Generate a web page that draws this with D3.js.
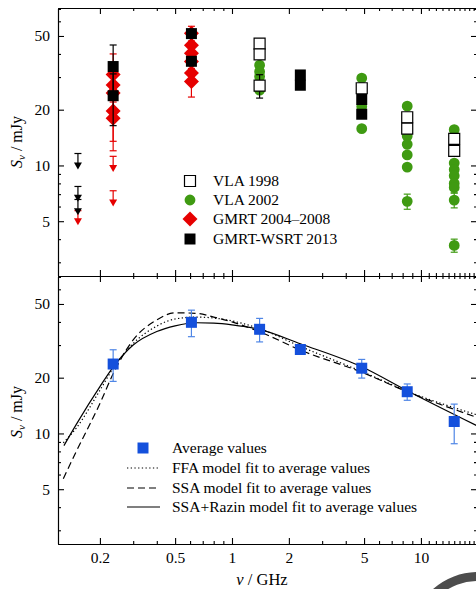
<!DOCTYPE html>
<html>
<head>
<meta charset="utf-8">
<script src="https://cdnjs.cloudflare.com/ajax/libs/d3/7.8.5/d3.min.js"></script>
<style>
body { margin: 0; background: #fff; }
svg { display: block; font-family: "Liberation Serif", "DejaVu Serif", serif; }
.axis path, .axis line { stroke: #000; stroke-width: 1.1; }
.axis text { font-size: 15.5px; fill: #000; font-family: "Liberation Serif", serif; }
.legend text { font-size: 15.5px; fill: #000; }
</style>
</head>
<body>
<script>
// Radio spectrum chart: two panels sharing a log frequency axis

// tick values
var freqTicks = [0.2, 0.5, 1, 2, 5, 10];
var freqMinor = [0.3, 0.4, 0.6, 0.7, 0.8, 0.9, 3, 4, 6, 7, 8, 9, 11, 12, 13, 14, 15, 16, 17, 18, 19];
var fluxTicks = [5, 10, 20, 50];
var fluxMinor = [3, 4, 6, 7, 8, 9, 30, 40, 60, 70];

// top panel data: [GHz, mJy, error]
var vla1998 = [[1.4, 45.5, 0], [1.4, 39.8, 0], [1.4, 27.0, 3.9], [4.86, 26.1, 0],
  [8.46, 18.2, 0], [8.46, 15.8, 0], [15, 13.9, 0], [15, 12.0, 0]];
var vla2002 = [[1.4, 34.8, 0], [1.4, 32.1, 0], [1.4, 30.2, 0], [1.4, 25.5, 0],
  [4.86, 29.6, 0], [4.86, 20.8, 0], [4.86, 15.8, 0],
  [8.46, 20.9, 0], [8.46, 14.4, 0], [8.46, 13.0, 0], [8.46, 11.4, 0], [8.46, 9.8, 0], [8.46, 6.4, 0.6],
  [15, 15.6, 0], [15, 10.3, 0], [15, 9.5, 0], [15, 8.8, 0], [15, 8.0, 0], [15, 7.6, 0.5], [15, 6.5, 0.6], [15, 3.7, 0.3]];
var gmrt = [[0.235, 31.0, 9.0], [0.235, 27.2, 0], [0.235, 24.6, 0], [0.235, 19.7, 6.2], [0.235, 18.0, 6.0],
  [0.61, 51.7, 4.7], [0.61, 44.6, 0], [0.61, 40.4, 0], [0.61, 36.4, 0], [0.61, 31.6, 0], [0.61, 28.4, 5.0]];
var gmrtLimits = [[0.153, 5.0, 0.7], [0.235, 9.7, 1.5], [0.235, 6.3, 1.0]];
var wsrt = [[0.235, 34.2, 10.5], [0.235, 23.8, 7.4], [0.61, 51.5, 0], [0.61, 36.5, 0],
  [2.3, 30.8, 0], [2.3, 27.1, 0], [4.86, 22.7, 0], [4.86, 18.9, 0]];
var wsrtLimits = [[0.153, 10.0, 1.6], [0.153, 6.7, 1.0], [0.153, 5.65, 0.9]];

// bottom panel data
var averages = [[0.235, 23.7, 4.6], [0.61, 39.8, 6.5], [1.4, 36.5, 5.3], [2.3, 28.4, 0],
  [4.86, 22.5, 2.6], [8.46, 16.8, 1.7], [15, 11.6, 2.8]];
var ffaCurve = [[0.128, 8.9], [0.15, 10.7], [0.2, 17.1], [0.235, 22.5], [0.3, 30.6], [0.4, 38.0], [0.5, 41.5],
  [0.65, 42.5], [0.8, 42.0], [1, 40.5], [1.4, 36.8], [2.3, 29.5], [4.86, 21.6], [8.46, 16.9], [19.8, 12.6]];
var ssaCurve = [[0.128, 5.7], [0.15, 8.0], [0.2, 14.5], [0.235, 21.0], [0.3, 32.0], [0.4, 41.0], [0.5, 44.8],
  [0.65, 44.5], [0.8, 42.5], [1, 40.0], [1.4, 35.4], [2.3, 28.2], [4.86, 21.4], [8.46, 16.8], [19.8, 12.2]];
var razinCurve = [[0.129, 8.6], [0.15, 11.2], [0.2, 17.9], [0.235, 22.8], [0.3, 30.0], [0.4, 35.5], [0.5, 38.1],
  [0.65, 39.6], [0.8, 39.4], [1, 38.6], [1.4, 36.5], [2.3, 30.5], [4.86, 22.9], [8.46, 17.0], [19.8, 11.0]];

var svgWidth = 476;
var svgHeight = 589;
var left = 58, right = 477;

var green = "#3f9a12", red = "#e60000", blue = "#1450dc", lightBlue = "#4f86e6";

var svg = d3.select("body").append("svg")
  .attr("width", svgWidth)
  .attr("height", svgHeight);

var x = d3.scaleLog().domain([0.12, 19.8]).range([left, right]);
var yTop = d3.scaleLog().domain([2.53, 70.8]).range([276, 8]);
var yBot = d3.scaleLog().domain([2.53, 70.8]).range([544, 276]);

var noLabel = function() { return ""; };

function drawAxes(y, y0, y1, xLabels) {
  var g = svg.append("g").attr("class", "axis");
  // minor ticks first
  g.append("g").attr("transform", "translate(0," + y1 + ")")
    .call(d3.axisBottom(x).tickValues(freqMinor).tickSize(-3).tickSizeOuter(0).tickFormat(noLabel));
  g.append("g").attr("transform", "translate(0," + y0 + ")")
    .call(d3.axisTop(x).tickValues(freqMinor).tickSize(-3).tickSizeOuter(0).tickFormat(noLabel));
  g.append("g").attr("transform", "translate(" + left + ",0)")
    .call(d3.axisLeft(y).tickValues(fluxMinor).tickSize(-3).tickSizeOuter(0).tickFormat(noLabel));
  g.append("g").attr("transform", "translate(" + right + ",0)")
    .call(d3.axisRight(y).tickValues(fluxMinor).tickSize(-3).tickSizeOuter(0).tickFormat(noLabel));
  // major ticks
  g.append("g").attr("transform", "translate(0," + y1 + ")")
    .call(d3.axisBottom(x).tickValues(freqTicks).tickSize(-6).tickSizeOuter(0).tickPadding(8)
      .tickFormat(xLabels ? d3.format("~g") : noLabel));
  g.append("g").attr("transform", "translate(0," + y0 + ")")
    .call(d3.axisTop(x).tickValues(freqTicks).tickSize(-6).tickSizeOuter(0).tickFormat(noLabel));
  g.append("g").attr("transform", "translate(" + left + ",0)")
    .call(d3.axisLeft(y).tickValues(fluxTicks).tickSize(-6).tickSizeOuter(0).tickPadding(8).tickFormat(d3.format("~g")));
  g.append("g").attr("transform", "translate(" + right + ",0)")
    .call(d3.axisRight(y).tickValues(fluxTicks).tickSize(-6).tickSizeOuter(0).tickFormat(noLabel));
  g.selectAll(".domain").attr("stroke-width", 1.4);
}

var squareSym = d3.symbol().type(d3.symbolSquare).size(121);
var circleSym = d3.symbol().type(d3.symbolCircle).size(92);
var diamondPath = "M0,-7.5L7.5,0L0,7.5L-7.5,0Z";
var triPath = "M-4,-3L4,-3L0,4Z";

function errorBars(g, data, y, color, upOnly) {
  var withErr = data.filter(function(d) { return d[2] > 0; });
  var bars = g.selectAll(null).data(withErr).enter().append("g")
    .attr("stroke", color).attr("stroke-width", 1.2);
  bars.append("line")
    .attr("x1", function(d) { return x(d[0]); })
    .attr("x2", function(d) { return x(d[0]); })
    .attr("y1", function(d) { return y(d[1] + d[2]); })
    .attr("y2", function(d) { return upOnly ? y(d[1]) : y(d[1] - d[2]); });
  bars.append("line")
    .attr("x1", function(d) { return x(d[0]) - 3.5; })
    .attr("x2", function(d) { return x(d[0]) + 3.5; })
    .attr("y1", function(d) { return y(d[1] + d[2]); })
    .attr("y2", function(d) { return y(d[1] + d[2]); });
  if (!upOnly) {
    bars.append("line")
      .attr("x1", function(d) { return x(d[0]) - 3.5; })
      .attr("x2", function(d) { return x(d[0]) + 3.5; })
      .attr("y1", function(d) { return y(d[1] - d[2]); })
      .attr("y2", function(d) { return y(d[1] - d[2]); });
  }
}

function markers(g, data, y, path, fill, stroke) {
  g.selectAll(null).data(data).enter().append("path")
    .attr("d", path)
    .attr("transform", function(d) { return "translate(" + x(d[0]) + "," + y(d[1]) + ")"; })
    .attr("fill", fill)
    .attr("stroke", stroke || "none")
    .attr("stroke-width", 1.2);
}

// ---------- top panel ----------
var topG = svg.append("g");
errorBars(topG, vla2002, yTop, green, false);
markers(topG, vla2002, yTop, circleSym, green);
errorBars(topG, vla1998, yTop, "#000", false);
markers(topG, vla1998, yTop, squareSym, "#fff", "#000");
errorBars(topG, gmrt, yTop, red, false);
markers(topG, gmrt, yTop, diamondPath, red);
errorBars(topG, gmrtLimits, yTop, red, true);
markers(topG, gmrtLimits, yTop, triPath, red);
errorBars(topG, wsrtLimits, yTop, "#000", true);
markers(topG, wsrtLimits, yTop, triPath, "#000");
errorBars(topG, wsrt, yTop, "#000", false);
markers(topG, wsrt, yTop, squareSym, "#000");

drawAxes(yTop, 8, 276, false);

// top legend
var topLegend = [
  { label: "VLA 1998", path: squareSym, fill: "#fff", stroke: "#000" },
  { label: "VLA 2002", path: circleSym, fill: green },
  { label: "GMRT 2004\u20132008", path: diamondPath, fill: red },
  { label: "GMRT-WSRT 2013", path: squareSym, fill: "#000" }
];
var legendRowsTop = [181, 200, 219, 239];
var lt = svg.append("g").attr("class", "legend");
topLegend.forEach(function(item, i) {
  lt.append("path").attr("d", item.path)
    .attr("transform", "translate(190," + legendRowsTop[i] + ")")
    .attr("fill", item.fill).attr("stroke", item.stroke || "none").attr("stroke-width", 1.2);
  lt.append("text").attr("x", 213).attr("y", legendRowsTop[i] + 5).text(item.label);
});

// ---------- bottom panel ----------
var botG = svg.append("g");
var line = d3.line()
  .x(function(d) { return x(d[0]); })
  .y(function(d) { return yBot(d[1]); })
  .curve(d3.curveMonotoneX);

var curves = [
  { data: ffaCurve, dash: "1.3,2.4", label: "FFA model fit to average values" },
  { data: ssaCurve, dash: "7,4", label: "SSA model fit to average values" },
  { data: razinCurve, dash: null, label: "SSA+Razin model fit to average values" }
];
curves.forEach(function(c) {
  botG.append("path").datum(c.data)
    .attr("d", line)
    .attr("fill", "none")
    .attr("stroke", "#000")
    .attr("stroke-width", 1.2)
    .attr("stroke-dasharray", c.dash);
});

errorBars(botG, averages, yBot, lightBlue, false);
markers(botG, averages, yBot, squareSym, blue);

drawAxes(yBot, 276, 544, true);

// bottom legend
var lb = svg.append("g").attr("class", "legend");
lb.append("path").attr("d", squareSym).attr("transform", "translate(143,448)").attr("fill", blue);
lb.append("text").attr("x", 172).attr("y", 453).text("Average values");
var legendRowsBot = [468, 488, 507];
curves.forEach(function(c, i) {
  lb.append("line").attr("x1", 127).attr("x2", 160)
    .attr("y1", legendRowsBot[i]).attr("y2", legendRowsBot[i])
    .attr("stroke", "#000").attr("stroke-width", 1.2)
    .attr("stroke-dasharray", c.dash);
  lb.append("text").attr("x", 172).attr("y", legendRowsBot[i] + 5).text(c.label);
});

// axis titles
function yTitle(cy) {
  var t = svg.append("text")
    .attr("transform", "translate(22," + cy + ") rotate(-90)")
    .attr("text-anchor", "middle")
    .style("font-size", "16px");
  t.append("tspan").style("font-style", "italic").text("S");
  t.append("tspan").style("font-style", "italic").style("font-size", "11px").attr("dy", 3).text("\u03bd");
  t.append("tspan").attr("dy", -3).text(" / mJy");
}
yTitle(142);
yTitle(412);

var xt = svg.append("text")
  .attr("x", 262).attr("y", 585)
  .attr("text-anchor", "middle")
  .style("font-size", "16.5px");
xt.append("tspan").style("font-style", "italic").text("\u03bd");
xt.append("tspan").text(" / GHz");

// grey arc in the lower right corner
svg.append("path")
  .attr("d", d3.arc().innerRadius(59).outerRadius(68).startAngle(-0.75).endAngle(0.8)())
  .attr("transform", "translate(478,640)")
  .attr("fill", "#4d4d4d");
</script>
</body>
</html>
